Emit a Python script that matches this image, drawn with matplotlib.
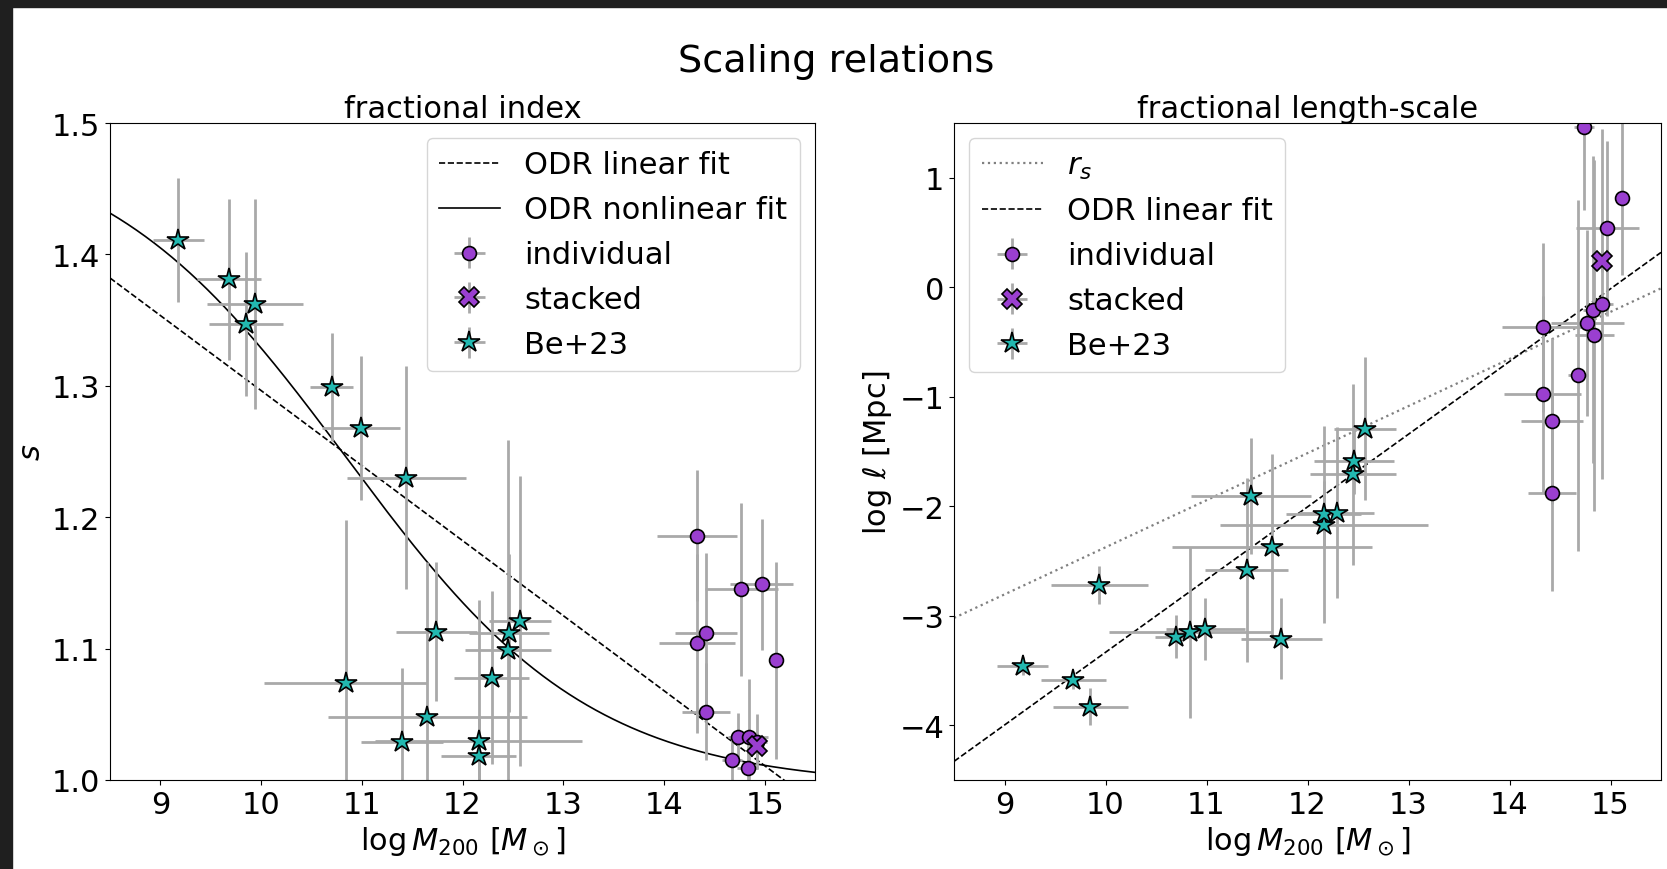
import numpy as np
import matplotlib
matplotlib.use('Agg')
import matplotlib.pyplot as plt
from matplotlib.patches import Rectangle

plt.rcParams['font.size'] = 22

#####---data---#####

# Be+23 sample (same masses in both panels)
be_logm = [9.18, 9.68, 9.85, 9.94, 10.70, 10.84, 10.99, 11.40, 11.44,
           11.65, 11.74, 12.16, 12.16, 12.29, 12.45, 12.46, 12.57]
be_logm_err = [0.25, 0.32, 0.37, 0.48, 0.21, 0.81, 0.39, 0.41, 0.59,
               0.99, 0.40, 1.03, 0.37, 0.37, 0.43, 0.40, 0.31]
be_s = [1.411, 1.381, 1.347, 1.362, 1.299, 1.074, 1.268, 1.029, 1.230,
        1.048, 1.113, 1.030, 1.018, 1.078, 1.099, 1.112, 1.121]
be_s_err = [0.047, 0.061, 0.055, 0.080, 0.041, 0.124, 0.055, 0.056, 0.085,
            0.118, 0.053, 0.107, 0.030, 0.066, 0.160, 0.060, 0.110]
be_logl = [-3.46, -3.59, -3.83, -2.72, -3.19, -3.15, -3.12, -2.58, -1.91,
           -2.37, -3.21, -2.17, -2.07, -2.06, -1.71, -1.59, -1.29]
be_logl_err = [0.08, 0.08, 0.17, 0.17, 0.20, 0.78, 0.28, 0.84, 0.53,
               0.85, 0.37, 0.90, 0.30, 0.78, 0.83, 0.30, 0.65]

# individual clusters
ind_logm = [14.33, 14.33, 14.42, 14.42, 14.68, 14.74, 14.77, 14.83,
            14.84, 14.92, 14.97, 15.11]
ind_logm_err = [0.40, 0.38, 0.31, 0.24, 0.10, 0.10, 0.36, 0.10,
                0.19, 0.10, 0.31, 0.05]
ind_s = [1.186, 1.104, 1.112, 1.052, 1.015, 1.033, 1.145, 1.009,
         1.033, 1.029, 1.149, 1.091]
ind_s_err = [0.050, 0.068, 0.061, 0.037, 0.020, 0.018, 0.066, 0.020,
             0.044, 0.021, 0.050, 0.075]
ind_logl = [-0.365, -0.976, -1.22, -1.875, -0.805, 1.46, -0.326, -0.204,
            -0.44, -0.153, 0.54, 0.816]
ind_logl_err = [0.77, 0.90, 0.76, 0.90, 1.60, 0.75, 0.85, 1.40,
                1.60, 1.60, 0.80, 0.70]

# stacked profile
stk_logm, stk_logm_err = [14.92], [0.05]
stk_s, stk_s_err = [1.026], [0.01]
stk_logl, stk_logl_err = [0.243], [0.10]

# fit parameters
lin_s = (1.8674, -0.0571)           # s = a + b*logM
nonlin_s = (0.995, 0.5, 10.85, 1.22)  # floor, amplitude, centre, width
rs_rel = (-6.675, 0.43)             # log r_s = a + b*logM
lin_l = (-9.974, 0.664)             # log l = a + b*logM


def linear(x, a, b):
    return a + b * x

def logistic(x, floor, amp, x0, w):
    return floor + amp / (1 + np.exp((x - x0) / w))


purple = '#9a3fd0'
teal = '#22b8b0'
ebar = dict(ecolor='darkgray', elinewidth=2, capsize=0, mec='k', mew=1.2, ls='none')

x = np.linspace(8.5, 15.5, 400)

fig = plt.figure(figsize=(16.67, 8.7), dpi=100)
ax1 = fig.add_axes([110/1667, 89/870, 705/1667, 657/870])
ax2 = fig.add_axes([954/1667, 89/870, 707/1667, 657/870])

# screenshot frame
fig.add_artist(Rectangle((0, 1 - 8/870), 1, 8/870, transform=fig.transFigure, color='#1f1f1f', zorder=10))
fig.add_artist(Rectangle((0, 0), 12/1667, 1, transform=fig.transFigure, color='#1f1f1f', zorder=10))

#####---left: fractional index---#####
l1, = ax1.plot(x, linear(x, *lin_s), 'k--', lw=1.2, label='ODR linear fit')
l2, = ax1.plot(x, logistic(x, *nonlin_s), 'k-', lw=1.2, label='ODR nonlinear fit')
e1 = ax1.errorbar(ind_logm, ind_s, xerr=ind_logm_err, yerr=ind_s_err, marker='o', ms=10,
                  mfc=purple, label='individual', **ebar)
e2 = ax1.errorbar(stk_logm, stk_s, xerr=stk_logm_err, yerr=stk_s_err, marker='X', ms=15,
                  mfc=purple, label='stacked', **ebar)
e3 = ax1.errorbar(be_logm, be_s, xerr=be_logm_err, yerr=be_s_err, marker='*', ms=16,
                  mfc=teal, label='Be+23', **ebar)
ax1.set_xlim(8.5, 15.5)
ax1.set_ylim(1.0, 1.5)
ax1.set_xticks([9, 10, 11, 12, 13, 14, 15])
ax1.set_yticks([1.0, 1.1, 1.2, 1.3, 1.4, 1.5])
ax1.set_xlabel(r'$\log M_{200}$ [$M_\odot$]')
ax1.set_ylabel(r'$s$')
ax1.set_title('fractional index', fontsize=22, pad=3)
ax1.legend(handles=[l1, l2, e1, e2, e3], loc='upper right', labelspacing=0.52)

#####---right: fractional length-scale---#####
r1, = ax2.plot(x, linear(x, *rs_rel), ls=':', color='gray', lw=1.6, label=r'$r_s$')
r2, = ax2.plot(x, linear(x, *lin_l), 'k--', lw=1.2, label='ODR linear fit')
f1 = ax2.errorbar(ind_logm, ind_logl, xerr=ind_logm_err, yerr=ind_logl_err, marker='o', ms=10,
                  mfc=purple, label='individual', **ebar)
f2 = ax2.errorbar(stk_logm, stk_logl, xerr=stk_logm_err, yerr=stk_logl_err, marker='X', ms=15,
                  mfc=purple, label='stacked', **ebar)
f3 = ax2.errorbar(be_logm, be_logl, xerr=be_logm_err, yerr=be_logl_err, marker='*', ms=16,
                  mfc=teal, label='Be+23', **ebar)
ax2.set_xlim(8.5, 15.5)
ax2.set_ylim(-4.5, 1.5)
ax2.set_xticks([9, 10, 11, 12, 13, 14, 15])
ax2.set_yticks([-4, -3, -2, -1, 0, 1])
ax2.set_xlabel(r'$\log M_{200}$ [$M_\odot$]')
ax2.set_ylabel(r'$\log\,\ell$ [Mpc]')
ax2.set_title('fractional length-scale', fontsize=22, pad=3)
ax2.legend(handles=[r1, r2, f1, f2, f3], loc='upper left', labelspacing=0.52)

fig.text(0.5015, 1 - 72/870, 'Scaling relations', fontsize=27.5,
         ha='center', va='baseline')

fig.savefig('out.png', dpi=100)
